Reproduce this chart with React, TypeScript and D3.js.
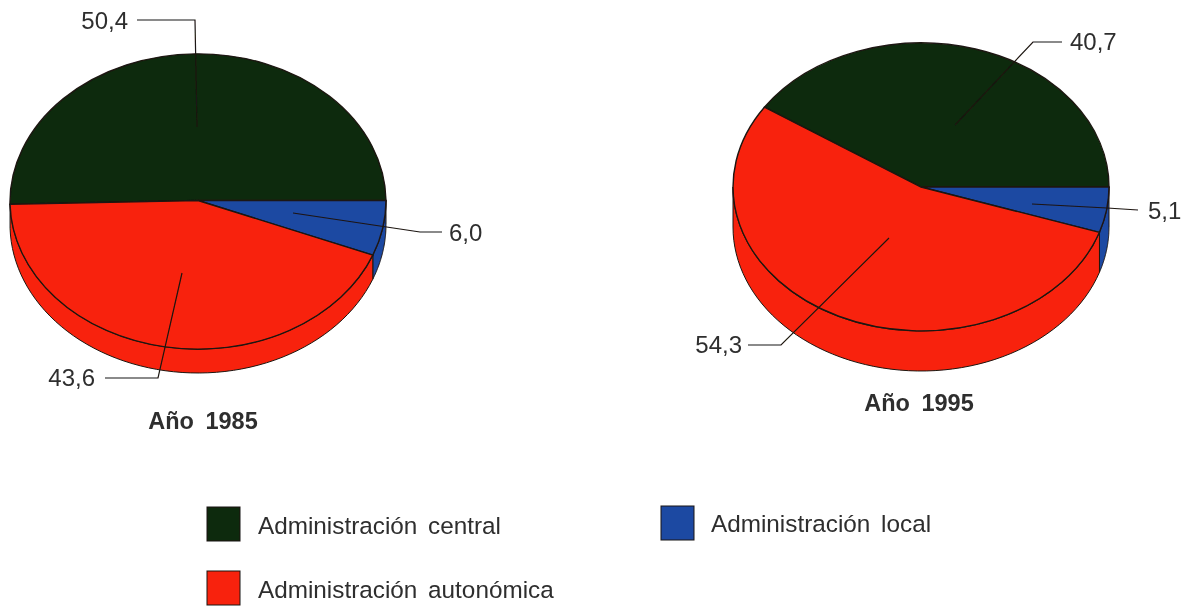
import React from "react";
import * as d3 from "d3";

const categories = ["Administración central", "Administración local", "Administración autonómica"];
const colors = ["#0e2a0d", "#1b48a2", "#f8240c"];
const values1985 = [50.4, 6.0, 43.6];
const values1995 = [40.7, 5.1, 54.3];
const labels1985 = ["50,4", "6,0", "43,6"];
const labels1995 = ["40,7", "5,1", "54,3"];

const INK = "#1c1512";
const TXT = "#2e2e2e";
const FONT = "'Liberation Sans', Arial, sans-serif";

type Leader = { pts: [number, number][]; x: number; y: number; anchor: string };
type PieProps = {
  values: number[]; labels: string[]; cx: number; cy: number; rx: number; ry: number; depth: number;
  title: string; titleX: number; titleY: number; leaders: Leader[];
};

function Pie({ values, labels, cx, cy, rx, ry, depth, title, titleX, titleY, leaders }: PieProps) {
  const total = d3.sum(values);
  const sweep0 = (values[0] / total) * 2 * Math.PI;
  const start = Math.PI / 2 - sweep0; // the first slice ends at three o'clock
  const arcs = d3.pie<number>().sort(null).startAngle(start).endAngle(start + 2 * Math.PI)(values);
  const arc = d3.arc<d3.PieArcDatum<number>>().innerRadius(0).outerRadius(1);
  const sx = d3.scaleLinear().domain([-1, 1]).range([cx - rx, cx + rx]);
  const sy = d3.scaleLinear().domain([-1, 1]).range([cy - ry, cy + ry]);
  const px = (a: number) => sx(Math.sin(a));
  const py = (a: number) => sy(-Math.cos(a));
  const line = d3.line();

  const walls = arcs.map((d) => {
    const a0 = Math.max(d.startAngle, Math.PI / 2);
    const a1 = Math.min(d.endAngle, (3 * Math.PI) / 2);
    if (a1 <= a0) return null;
    const steps = d3.range(0, 61).map((i) => a0 + ((a1 - a0) * i) / 60);
    const top = steps.map((a) => [px(a), py(a)] as [number, number]);
    const bot = steps.slice().reverse().map((a) => [px(a), py(a) + depth] as [number, number]);
    return { d: line([...top, ...bot]) + "Z", i: d.index };
  });

  return (
    <g>
      {walls.map((w) => w && <path key={w.i} d={w.d} fill={colors[w.i]} stroke={INK} strokeWidth={1} />)}
      <g transform={`translate(${cx},${cy}) scale(${rx},${ry})`}>
        {arcs.map((d, i) => (
          <path key={i} d={arc(d) || ""} fill={colors[i]} stroke={INK} strokeWidth={1.4} vectorEffect="non-scaling-stroke" />
        ))}
      </g>
      {leaders.map((l, i) => (
        <g key={i}>
          <path d={line(l.pts) || ""} fill="none" stroke={INK} strokeWidth={1.2} />
          <text x={l.x} y={l.y} textAnchor={l.anchor} fontSize={24} fill={TXT}>{labels[i]}</text>
        </g>
      ))}
      <text x={titleX} y={titleY} textAnchor="middle" fontSize={23.5} fontWeight="bold" wordSpacing={5} fill={TXT}>{title}</text>
    </g>
  );
}

const legendItems = [
  { x: 207, y: 507, tx: 258, ty: 534 },
  { x: 661, y: 506, tx: 711, ty: 532 },
  { x: 207, y: 571, tx: 258, ty: 598 },
];

export default function App() {
  return (
    <svg width={1193} height={606} viewBox="0 0 1193 606"
      style={{ position: "absolute", left: 0, top: 0, background: "#fff" }} fontFamily={FONT}>
      <defs>
        <filter id="scan" x="-5%" y="-5%" width="110%" height="110%">
          <feGaussianBlur stdDeviation="0.5" />
        </filter>
      </defs>
      <g filter="url(#scan)">
        <Pie values={values1985} labels={labels1985} cx={198} cy={200.5} rx={188} ry={148.5} depth={24}
          title="Año 1985" titleX={203} titleY={429}
          leaders={[
            { pts: [[137, 20], [195, 20], [197, 127]], x: 128, y: 29, anchor: "end" },
            { pts: [[293, 213], [420, 232], [442, 232]], x: 449, y: 241, anchor: "start" },
            { pts: [[182, 273], [158, 378], [105, 378]], x: 95, y: 386, anchor: "end" },
          ]} />
        <Pie values={values1995} labels={labels1995} cx={921} cy={187} rx={188} ry={144} depth={40}
          title="Año 1995" titleX={919} titleY={411}
          leaders={[
            { pts: [[955, 125], [1033, 42], [1062, 42]], x: 1070, y: 50, anchor: "start" },
            { pts: [[1032, 204], [1107, 208], [1138, 210]], x: 1148, y: 219, anchor: "start" },
            { pts: [[889, 238], [781, 345], [748, 345]], x: 742, y: 353, anchor: "end" },
          ]} />
        {categories.map((c, i) => (
          <g key={c}>
            <rect x={legendItems[i].x} y={legendItems[i].y} width={33} height={34} fill={colors[i]} stroke={INK} strokeWidth={1} />
            <text x={legendItems[i].tx} y={legendItems[i].ty} fontSize={24.3} wordSpacing={4} fill={TXT}>{c}</text>
          </g>
        ))}
      </g>
    </svg>
  );
}
